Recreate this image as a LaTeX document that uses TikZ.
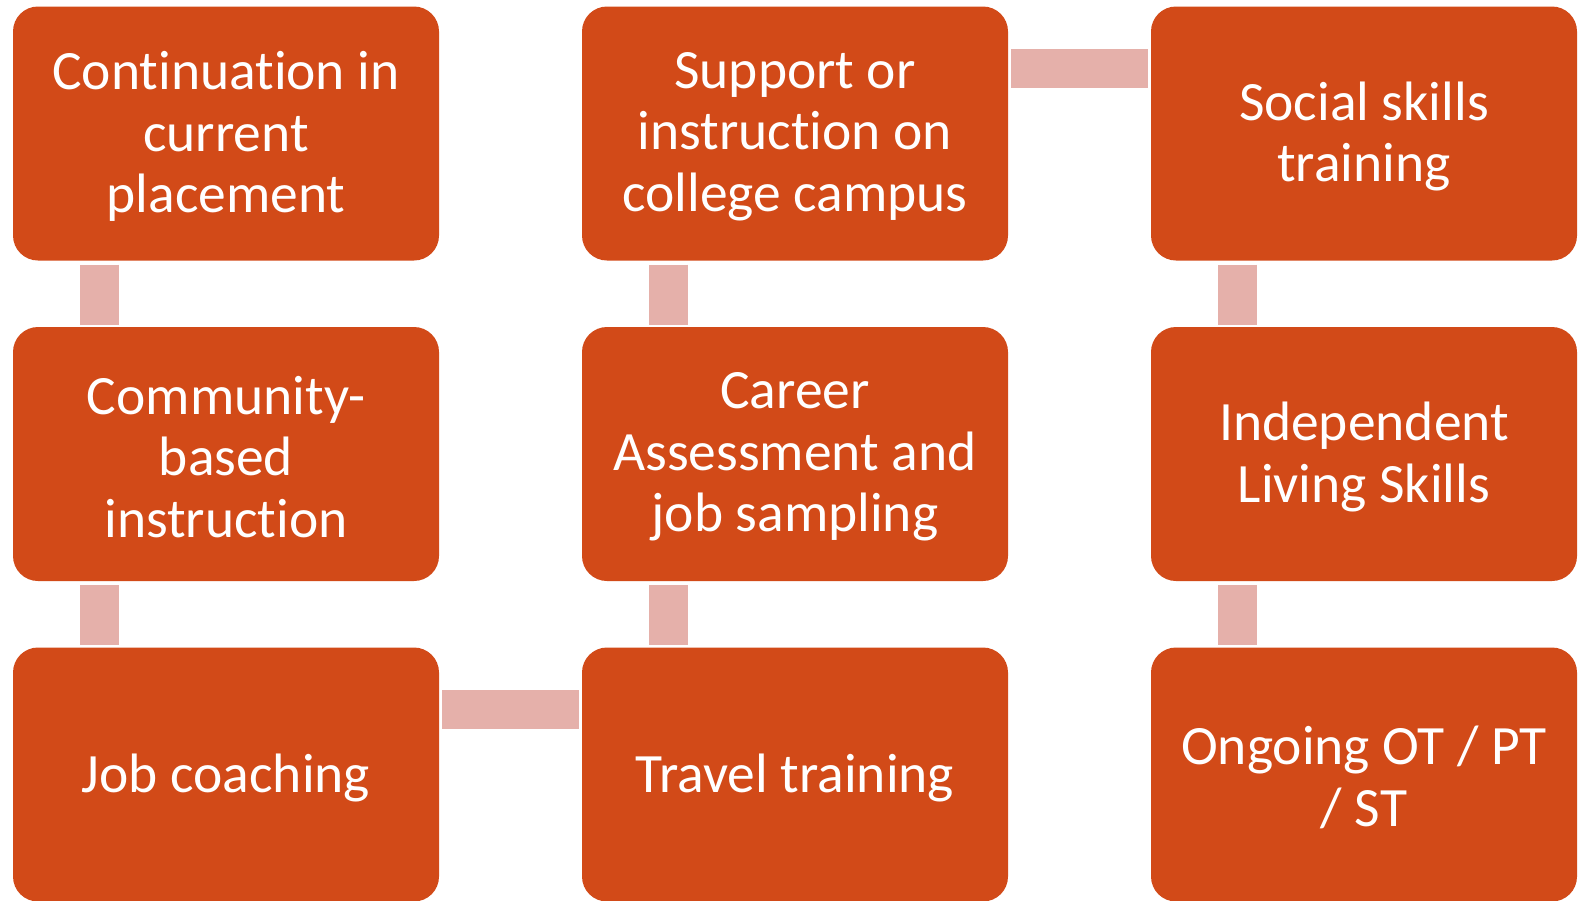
\documentclass[tikz,border=0pt]{standalone}
\usepackage{fontspec}
\setmainfont{Carlito}[Ligatures={NoCommon}]
\usetikzlibrary{calc}
\definecolor{boxfill}{RGB}{210,74,24}
\definecolor{linkfill}{RGB}{229,176,170}
\tikzset{
  stepbox/.style={fill=boxfill, rounded corners=25pt, minimum width=426pt,
    minimum height=254pt, inner sep=0pt},
  steplabel/.style={text=white, align=center, inner sep=0pt,
    font=\fontsize{55.5}{61.5}\selectfont},
  linkbar/.style={draw=linkfill, line width=39pt, line cap=butt}
}
% label of a box, set slightly below its centre
\newcommand{\steptext}[2]{\node[steplabel] (#1-label) at ($(#1.center)+(0,3)$) {#2};}
\begin{document}
\begin{tikzpicture}[x=1pt,y=-1pt]
\useasboundingbox (0,0) rectangle (1586,900);
% boxes, three columns by three rows
\node[stepbox] (a1) at (226,133.5) {};
\node[stepbox] (a2) at (226,454) {};
\node[stepbox] (a3) at (226,774.5) {};
\node[stepbox] (b1) at (795,133.5) {};
\node[stepbox] (b2) at (795,454) {};
\node[stepbox] (b3) at (795,774.5) {};
\node[stepbox] (c1) at (1364,133.5) {};
\node[stepbox] (c2) at (1364,454) {};
\node[stepbox] (c3) at (1364,774.5) {};
% labels
\steptext{a1}{Continuation in\\current\\placement}
\steptext{a2}{Community-\\based\\instruction}
\steptext{a3}{Job coaching}
\steptext{b1}{Support or\\instruction on\\college campus}
\steptext{b2}{Career\\Assessment and\\job sampling}
\steptext{b3}{Travel training}
\steptext{c1}{Social skills\\training}
\steptext{c2}{Independent\\Living Skills}
\steptext{c3}{Ongoing OT / PT\\/ ST}
% vertical links, drawn from the upper box to the lower one
\foreach \u/\v in {a1/a2,a2/a3,b1/b2,b2/b3,c1/c2,c2/c3}{
  \draw[linkbar] ($(\u.south)+(-127,4)$) -- ($(\v.north)+(-127,-2)$);
}
% horizontal links
\draw[linkbar] ($(a3.east)+(3,-65)$) -- ($(b3.west)+(-3,-65)$);
\draw[linkbar] ($(b1.east)+(3,-65)$) -- ($(c1.west)+(-3,-65)$);
\end{tikzpicture}
\end{document}
